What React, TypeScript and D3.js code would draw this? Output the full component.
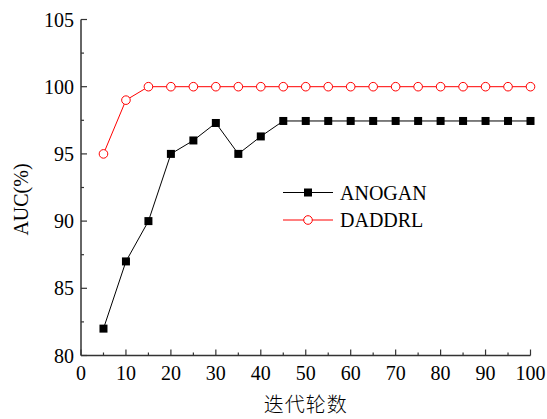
import React, { useEffect, useRef } from "react";
import * as d3 from "d3";

const epochs = [5, 10, 15, 20, 25, 30, 35, 40, 45, 50, 55, 60, 65, 70, 75, 80, 85, 90, 95, 100];
const anogan = [82, 87, 90, 95, 96, 97.3, 95, 96.3, 97.45, 97.45, 97.45, 97.45, 97.45, 97.45, 97.45, 97.45, 97.45, 97.45, 97.45, 97.45];
const daddrl = [95, 99, 100, 100, 100, 100, 100, 100, 100, 100, 100, 100, 100, 100, 100, 100, 100, 100, 100, 100];
const xTicks = [0, 10, 20, 30, 40, 50, 60, 70, 80, 90, 100];
const yTicks = [80, 85, 90, 95, 100, 105];
const seriesNames = ["ANOGAN", "DADDRL"];

const width = 547;
const height = 419;
const font = "'Liberation Serif', 'Times New Roman', serif";

export default function App() {
  const svgRef = useRef<SVGSVGElement>(null);

  useEffect(() => {
    const svg = d3.select(svgRef.current);
    svg.selectAll("*").remove();

    const x = d3.scaleLinear().domain([0, 100]).range([81, 530.5]);
    const y = d3.scaleLinear().domain([80, 105]).range([355.5, 19.5]);

    // minor ticks
    const xMinor = d3.range(5, 100, 10);
    const yMinor = d3.range(82.5, 105, 5);
    const axisColor = "#333";

    const xAxis = svg.append("g").attr("transform", `translate(0,${y(80)})`);
    xAxis.append("line").attr("x1", x(0)).attr("x2", x(100)).attr("stroke", axisColor).attr("stroke-width", 1.5);
    xAxis.selectAll(".maj").data(xTicks).join("line")
      .attr("x1", d => x(d)).attr("x2", d => x(d)).attr("y1", 0).attr("y2", -6)
      .attr("stroke", axisColor).attr("stroke-width", 1.2);
    xAxis.selectAll(".min").data(xMinor).join("line").attr("class", "min")
      .attr("x1", d => x(d)).attr("x2", d => x(d)).attr("y1", 0).attr("y2", -3)
      .attr("stroke", axisColor).attr("stroke-width", 1.2);
    xAxis.selectAll("text").data(xTicks).join("text")
      .attr("x", d => x(d)).attr("y", 24).attr("text-anchor", "middle")
      .attr("font-family", font).attr("font-size", 20).text(d => d);

    const yAxis = svg.append("g").attr("transform", `translate(${x(0)},0)`);
    yAxis.append("line").attr("y1", y(80)).attr("y2", y(105)).attr("stroke", axisColor).attr("stroke-width", 1.5);
    yAxis.selectAll(".maj").data(yTicks).join("line").attr("class", "maj")
      .attr("y1", d => y(d)).attr("y2", d => y(d)).attr("x1", 0).attr("x2", 6)
      .attr("stroke", axisColor).attr("stroke-width", 1.2);
    yAxis.selectAll(".min").data(yMinor).join("line").attr("class", "min")
      .attr("y1", d => y(d)).attr("y2", d => y(d)).attr("x1", 0).attr("x2", 3)
      .attr("stroke", axisColor).attr("stroke-width", 1.2);
    yAxis.selectAll("text").data(yTicks).join("text")
      .attr("x", -7).attr("y", d => y(d) + 7).attr("text-anchor", "end")
      .attr("font-family", font).attr("font-size", 20).text(d => d);

    svg.append("text")
      .attr("x", x(50)).attr("y", 412).attr("text-anchor", "middle")
      .attr("font-family", "'Noto Sans CJK SC', sans-serif").attr("font-size", 20).attr("font-weight", 300)
      .attr("letter-spacing", 1)
      .text("迭代轮数");
    svg.append("text")
      .attr("transform", `translate(28,${(y(80) + y(105)) / 2 + 12}) rotate(-90)`)
      .attr("text-anchor", "middle")
      .attr("font-family", font).attr("font-size", 20)
      .text("AUC(%)");

    const lineGen = d3.line<number>().x((_, i) => x(epochs[i])).y(d => y(d));

    svg.append("path").datum(daddrl).attr("d", lineGen)
      .attr("fill", "none").attr("stroke", "#ff0000").attr("stroke-width", 1);
    svg.selectAll(".circ").data(daddrl).join("circle").attr("class", "circ")
      .attr("cx", (_, i) => x(epochs[i])).attr("cy", d => y(d)).attr("r", 4.3)
      .attr("fill", "white").attr("stroke", "#ff0000").attr("stroke-width", 1);

    svg.append("path").datum(anogan).attr("d", lineGen)
      .attr("fill", "none").attr("stroke", "#000").attr("stroke-width", 1);
    svg.selectAll(".sq").data(anogan).join("rect").attr("class", "sq")
      .attr("x", (_, i) => x(epochs[i]) - 4).attr("y", d => y(d) - 4)
      .attr("width", 8).attr("height", 8).attr("fill", "#000");

    // legend
    const legend = svg.append("g");
    const ly = [192.5, 220];
    legend.selectAll("line").data(seriesNames).join("line")
      .attr("x1", 283).attr("x2", 333).attr("y1", (_, i) => ly[i]).attr("y2", (_, i) => ly[i])
      .attr("stroke", (_, i) => (i === 0 ? "#000" : "#ff0000")).attr("stroke-width", 1);
    legend.append("rect").attr("x", 304).attr("y", ly[0] - 4).attr("width", 8).attr("height", 8).attr("fill", "#000");
    legend.append("circle").attr("cx", 308).attr("cy", ly[1]).attr("r", 4.3)
      .attr("fill", "white").attr("stroke", "#ff0000");
    legend.selectAll("text").data(seriesNames).join("text")
      .attr("x", 340).attr("y", (_, i) => ly[i] + 7)
      .attr("font-family", font).attr("font-size", 20).text(d => d);
  }, []);

  return (
    <svg ref={svgRef} width={width} height={height}
      style={{ position: "fixed", left: 0, top: 0, background: "white" }} />
  );
}
